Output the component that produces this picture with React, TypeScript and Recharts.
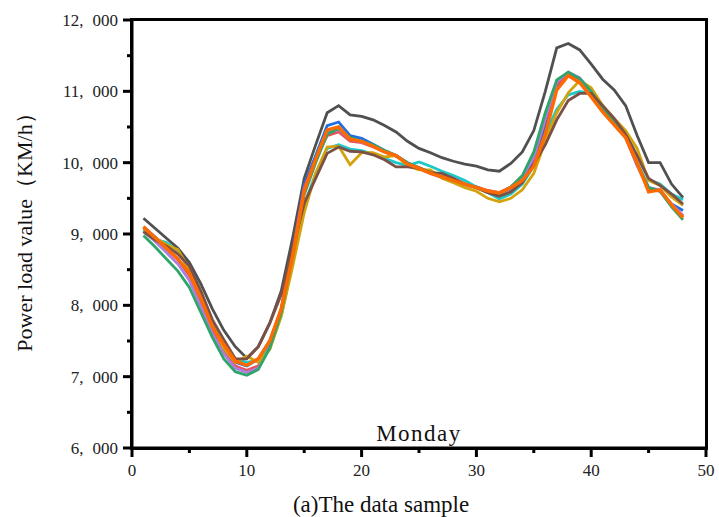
import { LineChart, Line, XAxis, YAxis } from 'recharts'

// half-hour slots of the day
const slots = [
  1, 2, 3, 4, 5, 6, 7, 8, 9, 10, 11, 12, 13, 14, 15, 16, 17, 18, 19, 20, 21, 22, 23, 24,
  25, 26, 27, 28, 29, 30, 31, 32, 33, 34, 35, 36, 37, 38, 39, 40, 41, 42, 43, 44, 45, 46, 47, 48,
]

const gray = [9220, 9080, 8940, 8800, 8600, 8300, 7950, 7650, 7420, 7260, 7420, 7750, 8200, 8950, 9780, 10250, 10700, 10800, 10670, 10650, 10600, 10520, 10430, 10300, 10200, 10140, 10070, 10020, 9980, 9950, 9900, 9880, 9990, 10150, 10450, 11000, 11610, 11670, 11580, 11380, 11170, 11020, 10800, 10380, 10000, 10000, 9700, 9510]
const blue = [9100, 8960, 8800, 8650, 8430, 8050, 7680, 7420, 7200, 7150, 7250, 7500, 7950, 8750, 9700, 10100, 10520, 10570, 10380, 10340, 10260, 10170, 10100, 10000, 9930, 9860, 9800, 9760, 9700, 9660, 9600, 9570, 9630, 9750, 10000, 10500, 11050, 11250, 11180, 10980, 10720, 10560, 10360, 9970, 9650, 9600, 9420, 9330]
const red = [9070, 8940, 8790, 8640, 8420, 8040, 7650, 7380, 7150, 7090, 7150, 7450, 7950, 8750, 9650, 10050, 10380, 10430, 10300, 10280, 10220, 10150, 10090, 9990, 9930, 9860, 9800, 9750, 9700, 9660, 9610, 9580, 9660, 9800, 10080, 10600, 11100, 11230, 11170, 10970, 10720, 10550, 10350, 9960, 9620, 9600, 9400, 9250]
const purple = [9040, 8900, 8740, 8580, 8350, 7980, 7600, 7320, 7120, 7060, 7120, 7420, 7920, 8720, 9600, 10020, 10420, 10470, 10330, 10290, 10230, 10160, 10100, 9990, 9920, 9850, 9790, 9740, 9690, 9650, 9590, 9560, 9640, 9790, 10080, 10620, 11130, 11270, 11190, 10990, 10730, 10560, 10360, 9980, 9650, 9620, 9420, 9260]
const cyan = [9050, 8930, 8880, 8760, 8500, 8150, 7750, 7450, 7250, 7200, 7230, 7400, 7850, 8600, 9400, 9850, 10200, 10250, 10190, 10170, 10120, 10060, 10000, 9960, 10010, 9950, 9880, 9820, 9750, 9660, 9580, 9490, 9560, 9700, 9950, 10400, 10750, 10950, 11000, 10970, 10800, 10600, 10400, 10100, 9760, 9700, 9560, 9480]
const gold = [9080, 8950, 8850, 8780, 8500, 8200, 7720, 7400, 7200, 7290, 7200, 7380, 7850, 8550, 9300, 9850, 10220, 10230, 9970, 10140, 10140, 10080, 10100, 9960, 9900, 9900, 9780, 9720, 9650, 9600, 9500, 9450, 9500, 9620, 9850, 10300, 10700, 10980, 11150, 11050, 10800, 10620, 10450, 10200, 9750, 9680, 9520, 9400]
const green = [8980, 8820, 8650, 8480, 8250, 7900, 7550, 7250, 7070, 7020, 7100, 7400, 7900, 8700, 9550, 10000, 10400, 10480, 10350, 10300, 10250, 10170, 10100, 10000, 9930, 9860, 9800, 9750, 9700, 9650, 9580, 9560, 9660, 9820, 10150, 10700, 11160, 11270, 11180, 11000, 10750, 10580, 10380, 10000, 9650, 9600, 9380, 9200]
const brown = [9030, 8920, 8830, 8720, 8550, 8200, 7800, 7520, 7250, 7250, 7420, 7750, 8150, 8800, 9430, 9780, 10130, 10220, 10160, 10150, 10110, 10040, 9940, 9940, 9920, 9860, 9850, 9780, 9700, 9650, 9580, 9530, 9590, 9720, 9980, 10250, 10600, 10870, 10970, 10970, 10800, 10620, 10400, 10100, 9780, 9680, 9560, 9420]
const orange = [9100, 8950, 8800, 8650, 8450, 8100, 7700, 7450, 7220, 7160, 7250, 7500, 7950, 8700, 9600, 10050, 10460, 10500, 10330, 10300, 10230, 10150, 10100, 9980, 9920, 9850, 9800, 9750, 9700, 9650, 9600, 9575, 9650, 9750, 9950, 10400, 11020, 11220, 11120, 10920, 10710, 10530, 10350, 10000, 9590, 9620, 9410, 9230]

const xTicks = [0, 5, 10, 15, 20, 25, 30, 35, 40, 45, 50]
const yTicks = [6000, 6500, 7000, 7500, 8000, 8500, 9000, 9500, 10000, 10500, 11000, 11500, 12000]

const series = [
  { key: 'gray', values: gray, color: '#505050', width: 2.8 },
  { key: 'blue', values: blue, color: '#1f6fe0', width: 2.8 },
  { key: 'red', values: red, color: '#e8505a', width: 2.8 },
  { key: 'purple', values: purple, color: '#b07ddf', width: 2.8 },
  { key: 'cyan', values: cyan, color: '#1fc8c8', width: 2.8 },
  { key: 'gold', values: gold, color: '#d4a20c', width: 2.8 },
  { key: 'green', values: green, color: '#2ea56a', width: 2.8 },
  { key: 'brown', values: brown, color: '#7b5047', width: 2.8 },
  { key: 'orange', values: orange, color: '#ff6a00', width: 3.4 },
]

const data = slots.map((s, i) => {
  const row: Record<string, number> = { slot: s }
  series.forEach(sr => { row[sr.key] = sr.values[i] })
  return row
})

const serif = '"Liberation Serif", "DejaVu Serif", serif'
const ink = '#000000'

const YTick = (props: any) => {
  const { x, y, payload } = props
  const major = payload.value % 1000 === 0
  const k = Math.floor(payload.value / 1000)
  return (
    <g>
      <path d={`M${x},${y}H${x - (major ? 9 : 5)}`} stroke={ink} strokeWidth={3} fill="none" />
      {major && (
        <text x={x - 14} y={y} textAnchor="end" dominantBaseline="central" fontFamily={serif} fontSize={17} fill="#222">
          <tspan>{`${k},`}</tspan>
          <tspan dx={9}>000</tspan>
        </text>
      )}
    </g>
  )
}

const XTick = (props: any) => {
  const { x, y, payload } = props
  const major = payload.value % 10 === 0
  return (
    <g>
      <path d={`M${x},${y}V${y + (major ? 9 : 5)}`} stroke={ink} strokeWidth={3} fill="none" />
      {major && (
        <text x={x} y={y + 22} textAnchor="middle" dominantBaseline="central" fontFamily={serif} fontSize={17} fill="#222">
          {payload.value}
        </text>
      )}
    </g>
  )
}

export default function App() {
  return (
    <div style={{ position: 'absolute', left: 0, top: 0, width: 719, height: 517, background: '#fff' }}>
      <LineChart width={719} height={517} data={data} margin={{ top: 20, right: 13, bottom: 0, left: 0 }}>
        <XAxis
          dataKey="slot"
          type="number"
          domain={[0, 50]}
          ticks={xTicks}
          interval={0}
          height={69}
          tickSize={0}
          tickMargin={0}
          axisLine={{ stroke: ink, strokeWidth: 3 }}
          tick={<XTick />}
        />
        <YAxis
          type="number"
          domain={[6000, 12000]}
          ticks={yTicks}
          interval={0}
          width={132}
          tickSize={0}
          tickMargin={0}
          axisLine={{ stroke: ink, strokeWidth: 3 }}
          tick={<YTick />}
        />
        {series.map(sr => (
          <Line
            key={sr.key}
            type="linear"
            dataKey={sr.key}
            stroke={sr.color}
            strokeWidth={sr.width}
            dot={false}
            activeDot={false}
            isAnimationActive={false}
          />
        ))}
      </LineChart>
      {/* plot frame */}
      <div style={{ position: 'absolute', left: 130, top: 18, width: 578, height: 432, boxSizing: 'border-box', border: `3px solid ${ink}`, pointerEvents: 'none' }} />
      <div style={{ position: 'absolute', left: 359, top: 421, width: 120, textAlign: 'center', fontFamily: serif, fontSize: 23, letterSpacing: 1.5, color: '#111', lineHeight: '26px' }}>
        Monday
      </div>
      <div style={{ position: 'absolute', left: 271, top: 492, width: 220, textAlign: 'center', fontFamily: serif, fontSize: 23, color: '#111', lineHeight: '26px', whiteSpace: 'nowrap' }}>
        (a)The data sample
      </div>
      <div style={{ position: 'absolute', left: 25, top: 227, width: 300, marginLeft: -150, marginTop: -13, transform: 'rotate(-90deg)', textAlign: 'center', fontFamily: serif, fontSize: 22, color: '#111', lineHeight: '26px', whiteSpace: 'nowrap' }}>
        Power load value（KM/h）
      </div>
    </div>
  )
}
